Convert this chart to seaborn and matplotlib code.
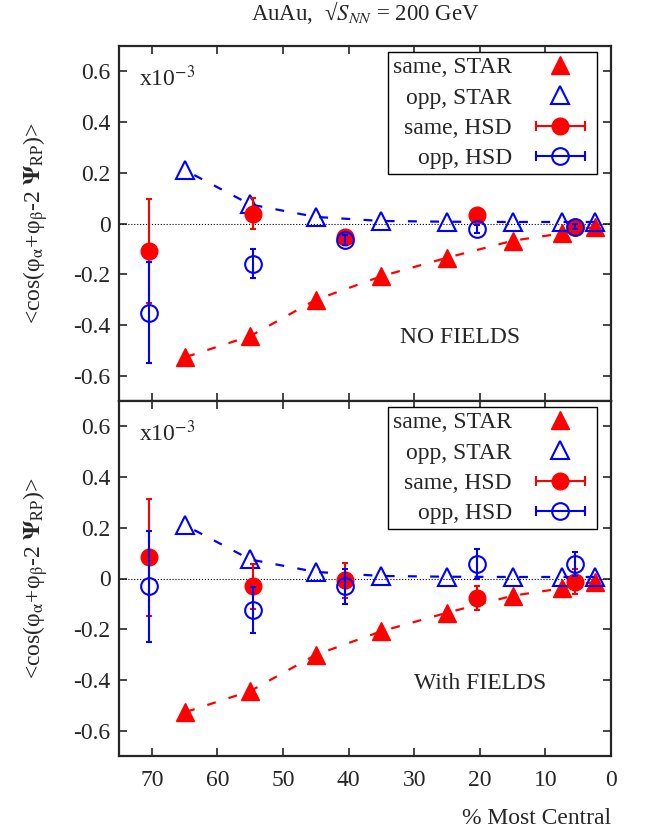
import matplotlib
matplotlib.use('Agg')
import matplotlib.pyplot as plt
import seaborn as sns
from matplotlib.lines import Line2D
from matplotlib.legend_handler import HandlerLine2D

# STAR data (same in both panels)
star_cent = [65, 55, 45, 35, 25, 15, 7.5, 2.5]
star_same = [-0.528, -0.444, -0.301, -0.208, -0.135, -0.068, -0.039, -0.013]
star_opp = [0.211, 0.075, 0.026, 0.010, 0.007, 0.006, 0.006, 0.006]

# HSD points
hsd_cent = [70.5, 54.5, 40.5, 20.5, 5.5]
# no fields
nf_same = [-0.109, 0.039, -0.052, 0.032, -0.012]
nf_same_err = [0.205, 0.06, 0.015, 0.01, 0.01]
nf_opp = [-0.351, -0.158, -0.065, -0.022, -0.012]
nf_opp_err = [0.2, 0.058, 0.02, 0.015, 0.01]
# with fields
wf_same = [0.083, -0.031, -0.007, -0.077, -0.013]
wf_same_err = [0.23, 0.09, 0.07, 0.047, 0.05]
wf_opp = [-0.031, -0.125, -0.031, 0.058, 0.058]
wf_opp_err = [0.22, 0.09, 0.07, 0.058, 0.047]

ytick_vals = [-0.6, -0.4, -0.2, 0, 0.2, 0.4, 0.6]
ytick_labels = ['-0.6', '-0.4', '-0.2', '0', '0.2', '0.4', '0.6']
xtick_vals = [70, 60, 50, 40, 30, 20, 10, 0]
legend_labels = ['same, STAR', 'opp, STAR', 'same, HSD', 'opp, HSD']

sns.set_style('ticks')
plt.rcParams['font.family'] = ['Liberation Serif', 'DejaVu Serif']
plt.rcParams['mathtext.fontset'] = 'stix'

fig, (ax1, ax2) = plt.subplots(2, 1, figsize=(6.5, 8.31), dpi=100, sharex=True)
fig.subplots_adjust(left=119/650, right=611/650, top=1-46/831, bottom=1-756/831, hspace=0)

ylab = r'<cos(φ$_{\mathrm{\alpha}}$+φ$_{\mathrm{\beta}}$-2 $\mathbf{\Psi}_{\rm RP}$)>'


def draw_panel(ax, same, same_err, opp, opp_err, note, note_pos):
    ax.axhline(0, color='black', ls=':', lw=0.8, zorder=1)
    sns.lineplot(x=star_cent, y=star_same, ax=ax, color='red', linewidth=1.6,
                 linestyle=(0, (4, 6)), marker='^', markersize=13,
                 markerfacecolor='red', markeredgecolor='red', markeredgewidth=1)
    sns.lineplot(x=star_cent, y=star_opp, ax=ax, color='blue', linewidth=1.6,
                 linestyle=(0, (4, 6)), marker='^', markersize=13,
                 markerfacecolor='none', markeredgecolor='blue', markeredgewidth=1.5)
    ax.errorbar(hsd_cent, same, yerr=same_err, fmt='o', color='red', ms=12,
                elinewidth=1.5, capsize=2.5, capthick=1.5, zorder=4)
    ax.errorbar(hsd_cent, opp, yerr=opp_err, fmt='o', color='blue', ms=12,
                mfc='none', mew=1.5, elinewidth=1.5, capsize=2.5, capthick=1.5, zorder=5)

    ax.set_xlim(75, 0)
    ax.set_ylim(-0.7, 0.7)
    ax.set_yticks(ytick_vals)
    ax.set_yticklabels(ytick_labels)
    ax.set_xticks(xtick_vals)
    ax.tick_params(direction='in', top=True, right=True, length=6, width=1.2, labelsize=17)
    ax.tick_params(axis='y', pad=6)
    ax.tick_params(axis='x', pad=10)
    for s in ax.spines.values():
        s.set_linewidth(1.6)
    ax.set_ylabel(ylab, fontsize=17, labelpad=17)

    ax.text(0.04, 0.945, r'x10$^{-3}$', transform=ax.transAxes, fontsize=17, va='top')
    ax.text(note_pos[0], note_pos[1], note, transform=ax.transAxes, fontsize=17,
            ha='center', va='center')

    # legend handles, gnuplot style (errorbar drawn horizontally)
    h_same_star = Line2D([], [], color='red', marker='^', ls='none', ms=13)
    h_opp_star = Line2D([], [], color='blue', marker='^', ls='none', ms=13,
                        mfc='none', mew=1.5)
    cap_r = Line2D([], [], color='red', marker='|', ms=7, mew=1.5, lw=1.5)
    dot_r = Line2D([], [], color='red', marker='o', ls='none', ms=12)
    cap_b = Line2D([], [], color='blue', marker='|', ms=7, mew=1.5, lw=1.5)
    dot_b = Line2D([], [], color='blue', marker='o', ls='none', ms=12, mfc='none', mew=1.5)
    leg = ax.legend([h_same_star, h_opp_star, (cap_r, dot_r), (cap_b, dot_b)], legend_labels,
                    loc='upper right', bbox_to_anchor=(0.9715, 0.983), borderaxespad=0,
                    markerfirst=False, fontsize=17, frameon=True,
                    fancybox=False, edgecolor='black', framealpha=1,
                    handlelength=2.7, handletextpad=0.7, labelspacing=0.37,
                    borderpad=0.2,
                    handler_map={cap_r: HandlerLine2D(numpoints=2),
                                 cap_b: HandlerLine2D(numpoints=2)})
    leg.get_frame().set_linewidth(1.0)


draw_panel(ax1, nf_same, nf_same_err, nf_opp, nf_opp_err, 'NO FIELDS', (0.693, 0.18))
draw_panel(ax2, wf_same, wf_same_err, wf_opp, wf_opp_err, 'With FIELDS', (0.734, 0.205))

ax1.tick_params(labelbottom=False)
ax2.set_xlabel('% Most Central', loc='right', fontsize=17, labelpad=12)

fig.text(365/650, 1-13/831, r'AuAu,  √$S_{NN}$ = 200 GeV', ha='center', va='center', fontsize=16.5)

plt.savefig('out.png', dpi=100)
